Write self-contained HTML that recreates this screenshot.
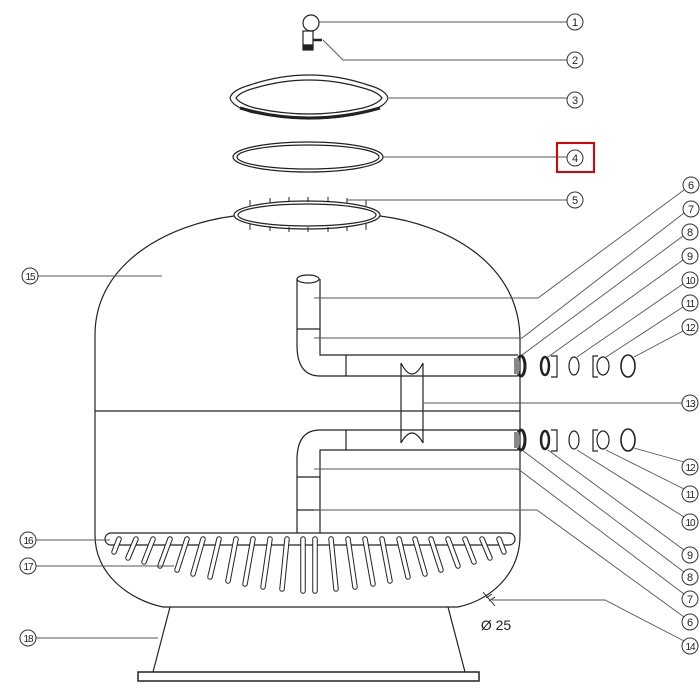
<!DOCTYPE html>
<html><head><meta charset="utf-8"><style>
html,body{margin:0;padding:0;background:#fff;}
svg{display:block;font-family:"Liberation Sans",sans-serif;}
</style></head><body>
<svg width="700" height="700" viewBox="0 0 700 700" xmlns="http://www.w3.org/2000/svg">
<g fill="none" stroke="#222" stroke-width="1.2">
<circle cx="311" cy="23" r="8"/>
<rect x="303" y="31" width="10" height="14"/>
<rect x="303" y="45" width="10" height="5" fill="#222"/>
<line x1="313" y1="40" x2="322" y2="40" stroke-width="2.5"/>
<!-- lid 3 -->
<path d="M230,98 Q232,90 250,85 Q309,65 368,85 Q386,90 388,98 Q386,106 368,112 Q309,126 250,112 Q232,106 230,98 Z"/>
<path d="M236,98 Q240,92 255,88 Q309,72 363,88 Q378,92 382,98 Q378,104 363,108 Q309,120 255,108 Q240,104 236,98 Z"/>
<path d="M240,108 Q309,128 380,108" stroke-width="3"/>
<!-- ring 4 -->
<ellipse cx="308" cy="157" rx="75" ry="15"/>
<ellipse cx="308" cy="157" rx="71" ry="12"/>
<!-- tank -->
<ellipse cx="307" cy="215" rx="73" ry="14"/>
<ellipse cx="307" cy="215" rx="69" ry="11"/>
<g stroke-width="1">
<line x1="250" y1="200" x2="250" y2="206"/><line x1="270" y1="198" x2="270" y2="203"/><line x1="289" y1="197" x2="289" y2="202"/><line x1="308" y1="197" x2="308" y2="202"/><line x1="328" y1="197" x2="328" y2="202"/><line x1="347" y1="198" x2="347" y2="203"/><line x1="366" y1="200" x2="366" y2="206"/>
<line x1="250" y1="224" x2="250" y2="230"/><line x1="270" y1="226" x2="270" y2="231"/><line x1="289" y1="227" x2="289" y2="232"/><line x1="308" y1="227" x2="308" y2="232"/><line x1="328" y1="227" x2="328" y2="232"/><line x1="347" y1="226" x2="347" y2="231"/><line x1="366" y1="224" x2="366" y2="230"/>
</g>
<path d="M234,216 C170,224 95,262 95,335 L95,535 C95,575 130,600 163,607 L458,607 C490,600 520,575 520,535 L520,340 C520,262 445,224 380,216"/>
<line x1="95" y1="411" x2="520" y2="411"/>
<!-- upper pipe -->
<ellipse cx="308" cy="279" rx="11" ry="4"/>
<path d="M297,279 L297,345 Q297,376 320,376 L346,376 L346,355 L320,355 L320,279"/>
<line x1="297" y1="329" x2="320" y2="329"/>
<line x1="346" y1="355" x2="518" y2="355"/><line x1="346" y1="376" x2="518" y2="376"/>
<!-- lower pipe -->
<path d="M297,533 L297,460 Q297,430 320,430 L346,430 L346,450 L320,450 L320,533"/>
<line x1="297" y1="477" x2="320" y2="477"/>
<line x1="346" y1="430" x2="518" y2="430"/><line x1="346" y1="450" x2="518" y2="450"/>
<line x1="297" y1="510" x2="320" y2="510"/>
<!-- tube 13 -->
<path d="M401,363 L401,443 M423,363 L423,443 M401,363 Q412,385 423,363 M401,443 Q412,423 423,443"/>
<!-- flanges -->
<ellipse cx="521" cy="366" rx="4" ry="10" stroke-width="3"/>
<rect x="514" y="358" width="5" height="16" fill="#888" stroke="none"/>
<ellipse cx="521" cy="440" rx="4" ry="10" stroke-width="3"/>
<rect x="514" y="432" width="5" height="16" fill="#888" stroke="none"/>
<ellipse cx="545" cy="366" rx="4" ry="9" stroke-width="2.5"/>
<ellipse cx="545" cy="440" rx="4" ry="9" stroke-width="2.5"/>
<path d="M551,356 L557,356 L557,377 L551,377 M551,430 L557,430 L557,451 L551,451"/>
<ellipse cx="574" cy="366" rx="5" ry="9"/><ellipse cx="574" cy="440" rx="5" ry="9"/>
<path d="M598,356 L593,356 L593,377 L598,377 M598,430 L593,430 L593,451 L598,451"/>
<ellipse cx="603" cy="366" rx="6" ry="9"/><ellipse cx="603" cy="440" rx="6" ry="9"/>
<ellipse cx="628" cy="366" rx="7" ry="11" stroke-width="1.6"/><ellipse cx="628" cy="440" rx="7" ry="11" stroke-width="1.6"/>
<!-- header -->
<rect x="105" y="533" width="410" height="12" rx="6"/>
<!-- base -->
<path d="M170,607 L153,672 M448,607 L465,672"/>
<rect x="138" y="672" width="341" height="9" stroke-width="1.5"/>
</g>
<!-- laterals -->
<g stroke="#222" stroke-width="5.5" stroke-linecap="round">
<line x1="119" y1="539" x2="114" y2="552"/><line x1="136" y1="539" x2="128" y2="558"/><line x1="153" y1="539" x2="144" y2="562"/><line x1="170" y1="539" x2="160" y2="566"/><line x1="187" y1="539" x2="177" y2="570"/><line x1="203" y1="539" x2="193" y2="574"/><line x1="219" y1="539" x2="210" y2="577"/><line x1="236" y1="539" x2="228" y2="581"/><line x1="253" y1="539" x2="245" y2="584"/><line x1="270" y1="539" x2="263" y2="587"/><line x1="287" y1="539" x2="282" y2="589"/><line x1="303" y1="539" x2="303" y2="591"/>
<line x1="315" y1="539" x2="315" y2="591"/><line x1="331" y1="539" x2="336" y2="589"/><line x1="348" y1="539" x2="355" y2="587"/><line x1="365" y1="539" x2="373" y2="584"/><line x1="382" y1="539" x2="390" y2="581"/><line x1="399" y1="539" x2="408" y2="577"/><line x1="415" y1="539" x2="425" y2="574"/><line x1="431" y1="539" x2="441" y2="570"/><line x1="448" y1="539" x2="458" y2="566"/><line x1="465" y1="539" x2="474" y2="562"/><line x1="482" y1="539" x2="490" y2="558"/><line x1="499" y1="539" x2="504" y2="552"/>
</g>
<g stroke="#fff" stroke-width="3.5" stroke-linecap="round">
<line x1="119" y1="539" x2="114" y2="552"/><line x1="136" y1="539" x2="128" y2="558"/><line x1="153" y1="539" x2="144" y2="562"/><line x1="170" y1="539" x2="160" y2="566"/><line x1="187" y1="539" x2="177" y2="570"/><line x1="203" y1="539" x2="193" y2="574"/><line x1="219" y1="539" x2="210" y2="577"/><line x1="236" y1="539" x2="228" y2="581"/><line x1="253" y1="539" x2="245" y2="584"/><line x1="270" y1="539" x2="263" y2="587"/><line x1="287" y1="539" x2="282" y2="589"/><line x1="303" y1="539" x2="303" y2="591"/>
<line x1="315" y1="539" x2="315" y2="591"/><line x1="331" y1="539" x2="336" y2="589"/><line x1="348" y1="539" x2="355" y2="587"/><line x1="365" y1="539" x2="373" y2="584"/><line x1="382" y1="539" x2="390" y2="581"/><line x1="399" y1="539" x2="408" y2="577"/><line x1="415" y1="539" x2="425" y2="574"/><line x1="431" y1="539" x2="441" y2="570"/><line x1="448" y1="539" x2="458" y2="566"/><line x1="465" y1="539" x2="474" y2="562"/><line x1="482" y1="539" x2="490" y2="558"/><line x1="499" y1="539" x2="504" y2="552"/>
</g>
<!-- leaders -->
<g fill="none" stroke="#555" stroke-width="0.9">
<line x1="318" y1="22" x2="567" y2="22"/>
<path d="M323,40 L343,60 L567,60"/>
<line x1="389" y1="98" x2="567" y2="98"/>
<line x1="383" y1="157" x2="567" y2="157"/>
<line x1="347" y1="200" x2="567" y2="200"/>
<path d="M314,298 L538,298 L684,190"/>
<path d="M314,338 L522,338 L684,213"/>
<line x1="522" y1="355" x2="683" y2="236"/>
<line x1="548" y1="357" x2="683" y2="260"/>
<line x1="577" y1="357" x2="683" y2="284"/>
<line x1="606" y1="357" x2="683" y2="307"/>
<line x1="634" y1="357" x2="683" y2="331"/>
<line x1="423" y1="403" x2="682" y2="403"/>
<line x1="634" y1="448" x2="684" y2="462"/>
<line x1="606" y1="450" x2="684" y2="489"/>
<line x1="577" y1="450" x2="684" y2="517"/>
<line x1="548" y1="450" x2="684" y2="550"/>
<line x1="522" y1="450" x2="684" y2="572"/>
<path d="M314,469 L518,469 L684,594"/>
<path d="M314,510 L537,510 L684,617"/>
<path d="M492,600 L605,600 L684,641"/>
<line x1="38" y1="276" x2="162" y2="276"/>
<line x1="36" y1="540" x2="110" y2="540"/>
<line x1="36" y1="566" x2="174" y2="566"/>
<line x1="36" y1="638" x2="158" y2="638"/>
<path d="M483,592 L495,606 M486,598 L492,594 M489,601 L495,597" stroke="#222"/>
</g>
<g fill="#fff" stroke="#333" stroke-width="1">
<circle cx="575" cy="22" r="8"/><circle cx="575" cy="60" r="8"/><circle cx="575" cy="100" r="8"/><circle cx="575" cy="158" r="8"/><circle cx="575" cy="200" r="8"/>
<circle cx="691" cy="185" r="8"/><circle cx="691" cy="209" r="8"/><circle cx="690" cy="232" r="8"/><circle cx="690" cy="256" r="8"/><circle cx="690" cy="280" r="8"/><circle cx="690" cy="303" r="8"/><circle cx="690" cy="327" r="8"/>
<circle cx="690" cy="403" r="8"/>
<circle cx="690" cy="467" r="8"/><circle cx="690" cy="494" r="8"/><circle cx="690" cy="522" r="8"/><circle cx="690" cy="555" r="8"/><circle cx="690" cy="577" r="8"/><circle cx="690" cy="599" r="8"/><circle cx="690" cy="622" r="8"/><circle cx="690" cy="646" r="8"/>
<circle cx="30" cy="276" r="8"/><circle cx="28" cy="540" r="8"/><circle cx="28" cy="566" r="8"/><circle cx="28" cy="638" r="8"/>
</g>
<g font-size="11" fill="#222" text-anchor="middle">
<text x="575" y="26">1</text><text x="575" y="64">2</text><text x="575" y="104">3</text><text x="575" y="162">4</text><text x="575" y="204">5</text>
<text x="691" y="189">6</text><text x="691" y="213">7</text><text x="690" y="236">8</text><text x="690" y="260">9</text><text x="690" y="284" font-size="10" letter-spacing="-1">10</text><text x="690" y="307" font-size="10" letter-spacing="-1">11</text><text x="690" y="331" font-size="10" letter-spacing="-1">12</text>
<text x="690" y="407" font-size="10" letter-spacing="-1">13</text>
<text x="690" y="471" font-size="10" letter-spacing="-1">12</text><text x="690" y="498" font-size="10" letter-spacing="-1">11</text><text x="690" y="526" font-size="10" letter-spacing="-1">10</text><text x="690" y="559">9</text><text x="690" y="581">8</text><text x="690" y="603">7</text><text x="690" y="626">6</text><text x="690" y="650" font-size="10" letter-spacing="-1">14</text>
<text x="30" y="280" font-size="10" letter-spacing="-1">15</text><text x="28" y="544" font-size="10" letter-spacing="-1">16</text><text x="28" y="570" font-size="10" letter-spacing="-1">17</text><text x="28" y="642" font-size="10" letter-spacing="-1">18</text>
<text x="496" y="630" font-size="14">Ø 25</text>
</g>
<rect x="557" y="143" width="37" height="29" fill="none" stroke="#e00000" stroke-width="2"/>
</svg>
</body></html>
